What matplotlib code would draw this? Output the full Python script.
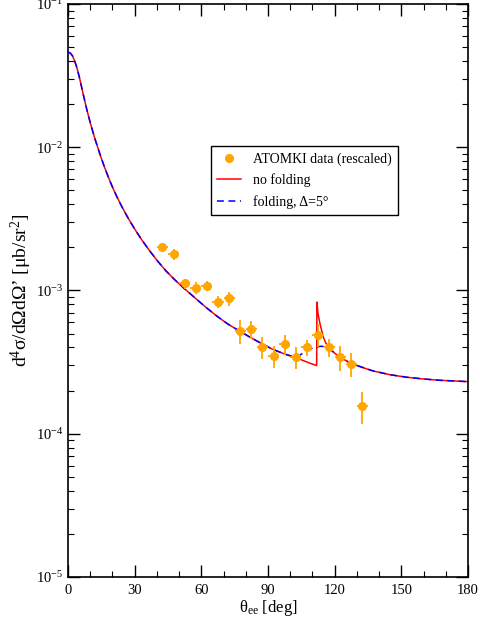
import numpy as np
import matplotlib
matplotlib.use("Agg")
import matplotlib.pyplot as plt
from matplotlib.lines import Line2D
from matplotlib.ticker import MultipleLocator, LogLocator, NullFormatter

plt.rcParams['font.family'] = ['Liberation Serif', 'DejaVu Serif']
plt.rcParams['mathtext.fontset'] = 'custom'
plt.rcParams['mathtext.rm'] = 'Liberation Serif'
plt.rcParams['mathtext.it'] = 'Liberation Serif:italic'

# ATOMKI data (rescaled)
theta_data = [42.5, 47.5, 52.5, 57.5, 62.5, 67.5, 72.5, 77.5, 82.5, 87.5,
              92.5, 97.5, 102.5, 107.5, 112.5, 117.5, 122.5, 127.5, 132.5]
sigma_data = [2.01e-3, 1.79e-3, 1.12e-3, 1.04e-3, 1.08e-3, 8.3e-4, 8.8e-4, 5.25e-4, 5.35e-4, 4.0e-4,
              3.49e-4, 4.24e-4, 3.45e-4, 4.0e-4, 4.92e-4, 4.0e-4, 3.42e-4, 3.07e-4, 1.57e-4]
sigma_err = [1.3e-4, 1.45e-4, 0.9e-4, 1.0e-4, 0.87e-4, 0.8e-4, 1.0e-4, 1.0e-4, 0.78e-4, 0.7e-4,
             0.62e-4, 0.68e-4, 0.61e-4, 0.52e-4, 0.87e-4, 0.58e-4, 0.66e-4, 0.6e-4, 0.4e-4]
theta_halfbin = 2.5

# common part of both curves (0 .. ~98 deg)
theta_common = [0, 1, 2, 3, 4, 5, 6, 7, 8, 9, 10, 11, 12, 13, 14, 15, 16, 17, 18, 19, 20,
                22, 24, 26, 28, 30, 33, 36, 40, 44, 48, 52, 57.9, 62, 66.9, 72, 77.4, 82,
                87.6, 92, 97.7]
sigma_common = [4.603e-2, 4.550e-2, 4.345e-2, 3.999e-2, 3.589e-2, 3.126e-2, 2.679e-2, 2.286e-2,
                1.959e-2, 1.698e-2, 1.486e-2, 1.309e-2, 1.161e-2, 1.038e-2, 9.311e-3, 8.375e-3,
                7.568e-3, 6.871e-3, 6.266e-3, 5.741e-3, 5.272e-3, 4.508e-3, 3.908e-3, 3.420e-3,
                3.020e-3, 2.685e-3, 2.280e-3, 1.959e-3, 1.626e-3, 1.374e-3, 1.189e-3, 1.042e-3,
                8.67e-4, 7.64e-4, 6.64e-4, 5.82e-4, 5.19e-4, 4.71e-4, 4.22e-4, 3.89e-4, 3.59e-4]

# no folding (red), beyond the common part
theta_nofold_tail = [102.7, 105.9, 109.0, 111.9, 112.0, 112.5, 113.4, 114.9, 116.0, 117.9,
                     120.0, 122.4, 126.0, 129.9, 134.0, 137.4, 145.0, 152.4, 160.0, 167.4,
                     175.0, 180.0]
sigma_nofold_tail = [3.39e-4, 3.24e-4, 3.1e-4, 2.99e-4, 8.3e-4, 6.9e-4, 5.85e-4, 4.72e-4, 4.3e-4,
                     3.91e-4, 3.65e-4, 3.42e-4, 3.18e-4, 3.0e-4, 2.85e-4, 2.74e-4, 2.58e-4,
                     2.48e-4, 2.41e-4, 2.36e-4, 2.33e-4, 2.31e-4]

# folding, Delta = 5 deg (blue dashed), beyond the common part
theta_fold_tail = [100.0, 102.5, 104.5, 106.5, 108.5, 110.5, 112.5, 114.0, 115.5, 117.0,
                   118.5, 120.0, 122.4, 126.0, 129.9, 134.0, 137.4, 145.0, 152.4, 160.0,
                   167.4, 175.0, 180.0]
sigma_fold_tail = [3.5e-4, 3.47e-4, 3.55e-4, 3.72e-4, 3.87e-4, 3.98e-4, 4.05e-4, 4.08e-4,
                   4.05e-4, 3.96e-4, 3.82e-4, 3.65e-4, 3.42e-4, 3.18e-4, 3.0e-4, 2.85e-4,
                   2.74e-4, 2.58e-4, 2.48e-4, 2.41e-4, 2.36e-4, 2.33e-4, 2.31e-4]

theta_nofold = theta_common + theta_nofold_tail
sigma_nofold = sigma_common + sigma_nofold_tail
theta_fold = theta_common + theta_fold_tail
sigma_fold = sigma_common + sigma_fold_tail

fig = plt.figure(figsize=(4.8, 6.21), dpi=100)
ax = fig.add_axes([0.1417, 0.0709, 0.8333, 0.9227])

ax.plot(theta_nofold, sigma_nofold, color='red', lw=1.1, zorder=2)
ax.plot(theta_fold, sigma_fold, color='blue', lw=1.1, ls=(0, (4.5, 3)), zorder=3)
ax.errorbar(theta_data, sigma_data, yerr=sigma_err, xerr=theta_halfbin, fmt='o',
            color='orange', ms=5.5, elinewidth=1.3, capsize=0, zorder=4)

ax.set_yscale('log')
ax.set_xlim(0, 180)
ax.set_ylim(1e-5, 1e-1)

ax.xaxis.set_major_locator(MultipleLocator(30))
ax.xaxis.set_minor_locator(MultipleLocator(10))
ax.yaxis.set_major_locator(LogLocator(base=10, numticks=10))
ax.yaxis.set_minor_locator(LogLocator(base=10, subs=np.arange(2, 10), numticks=20))
ax.yaxis.set_minor_formatter(NullFormatter())
ax.tick_params(which='both', direction='in', top=True, right=True, labelsize=10.5)
ax.tick_params(which='major', length=8.5, width=1.0)
ax.tick_params(which='minor', length=4.5, width=0.8)
ax.tick_params(axis='x', pad=5)
for s in ax.spines.values():
    s.set_linewidth(1.2)

ax.set_xlabel(r'θ$_{\rm ee}$ [deg]', fontsize=12, labelpad=1)
ax.set_ylabel(r'd$^4$σ/dΩdΩ’ [μb/sr$^2$]', fontsize=14, labelpad=1)

handles = [Line2D([], [], marker='o', ls='none', color='orange', ms=5.5),
           Line2D([], [], color='red', lw=1.1),
           Line2D([], [], color='blue', lw=1.1, ls=(0, (4.5, 3)))]
labels = ['ATOMKI data (rescaled)', 'no folding', 'folding, Δ=5°']
leg = ax.legend(handles, labels, loc='upper left', bbox_to_anchor=(0.3575, 0.752),
                borderaxespad=0, fontsize=10, fancybox=False, framealpha=1,
                edgecolor='black', handlelength=1.7, labelspacing=0.55,
                borderpad=0.45, handletextpad=0.85)
leg.get_frame().set_linewidth(1.0)

fig.savefig('out.png', dpi=100)
